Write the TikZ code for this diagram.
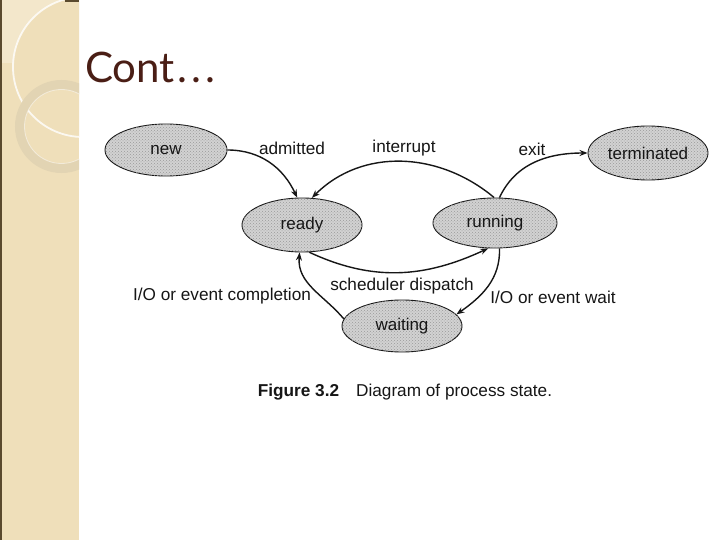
\documentclass[tikz,border=0pt]{standalone}
\usepackage{fontspec}
\setmainfont{Liberation Sans}
\newfontfamily\titlefont{Lato}
\usetikzlibrary{shapes.geometric,arrows.meta,patterns}
\definecolor{panel}{HTML}{EFDFBA}
\definecolor{panellight}{HTML}{F3E7CB}
\definecolor{panelline}{HTML}{5A4A2E}
\definecolor{ringcol}{HTML}{E2D4B3}
\definecolor{titlecol}{HTML}{4A1E15}
\definecolor{statefill}{HTML}{D2D2D2}
\definecolor{inkcol}{HTML}{161616}
\tikzset{
  state/.style={ellipse, draw=inkcol, line width=0.9pt, fill=statefill, inner sep=0pt,
    postaction={pattern=crosshatch dots, pattern color=black!40},
    font=\fontsize{17}{19}\selectfont, text=inkcol},
  lbl/.style={font=\fontsize{17.2}{19}\selectfont, text=inkcol, inner sep=0pt},
  trans/.style={draw=inkcol, line width=1.4pt, -{Stealth[length=8pt,width=6pt]}},
}
\begin{document}
\begin{tikzpicture}[x=1pt,y=1pt]
\useasboundingbox (0,0) rectangle (720,-540);
% background panel
\fill[white] (0,0) rectangle (720,-540);
\fill[panel] (0,0) rectangle (79,-540);
\begin{scope}
  \clip (0,0) rectangle (79,-540);
  \fill[panellight] (0,0) rectangle (79,-63);
  \fill[panel] (83,-67) circle[radius=70];
  \draw[white, line width=1.8pt, opacity=0.8] (83,-67) circle[radius=70];
  \draw[ringcol, line width=9.5pt] (61.5,-126.5) circle[radius=41.75];
  \draw[white, line width=0.8pt, opacity=0.5] (61.5,-126.5) circle[radius=37];
\end{scope}
\fill[panelline] (0,0) rectangle (2,-540);
\fill[panelline] (65,0) rectangle (79,-2);
% title
\node[anchor=base west, inner sep=0pt, text=titlecol, font=\titlefont\fontsize{42}{46}\selectfont] (title) at (85,-83) {Cont\hspace{3pt}.\hspace{4pt}.\hspace{4pt}.};
% states
\node[state, minimum width=122pt, minimum height=52pt] (new) at (166,-150) {new};
\node[state, minimum width=120pt, minimum height=54pt] (ready) at (302,-225) {ready};
\node[state, minimum width=124pt, minimum height=50pt] (running) at (495,-223) {running};
\node[state, minimum width=120pt, minimum height=54pt] (terminated) at (648,-153) {terminated};
\node[state, minimum width=120pt, minimum height=52pt] (waiting) at (402,-326) {waiting};
% transitions
\draw[trans] (new.east) to[out=0, in=115] (ready.100);
\draw[trans] (running.92) to[out=140, in=45] (ready.70);
\draw[trans] (running.80) to[out=65, in=180] (terminated.west);
\draw[trans] (ready.-75) to[out=-25, in=-155] (running.-105);
\draw[trans] (running.-80) to[out=-88, in=35] (waiting.12);
\draw[trans] (waiting.173) to[out=130, in=-95] (ready.-95);
% labels
\node[lbl] (ladm) at (292,-148) {admitted};
\node[lbl] (lint) at (404,-148) {interrupt};
\node[lbl] (lexit) at (532,-149) {exit};
\node[lbl] (lsched) at (402,-286) {scheduler dispatch};
\node[lbl] (lcomp) at (222,-296) {I/O or event completion};
\node[lbl] (lwait) at (553,-297) {I/O or event wait};
\node[lbl] (caption) at (405,-392) {\textbf{Figure 3.2}\hspace{17pt}Diagram of process state.};
\end{tikzpicture}
\end{document}
